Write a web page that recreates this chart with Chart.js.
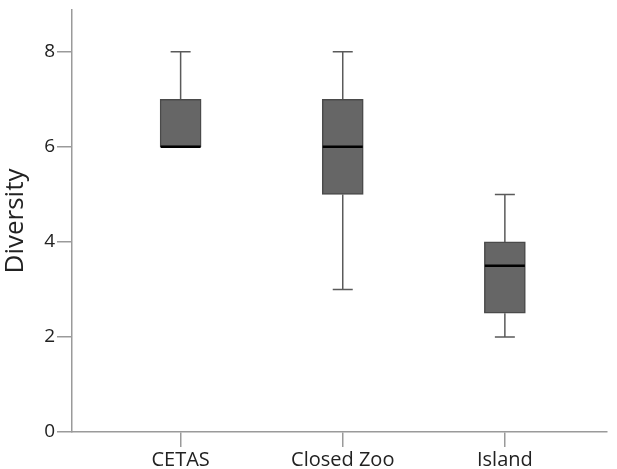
<!DOCTYPE html>
<html lang="en">
<head>
    <meta charset="UTF-8">
    <title>Diversity boxplot</title>
    <script src="https://cdn.jsdelivr.net/npm/chart.js"></script>
    <style>
        body {
            margin: 0;
            padding: 0;
            background-color: #ffffff;
        }

        canvas {
            display: block;
        }
    </style>
</head>
<body>

<canvas id="boxChart" width="617" height="469"></canvas>

<script>
    // Dados do boxplot
    const categorias = ['CETAS', 'Closed Zoo', 'Island'];
    const posicoes = [1, 2, 3];
    const minimos = [6, 3, 2];
    const quartil1 = [6, 5, 2.5];
    const medianas = [6, 6, 3.5];
    const quartil3 = [7, 7, 4];
    const maximos = [8, 8, 5];
    const yTicks = [0, 2, 4, 6, 8];

    const corEixo = '#9a9a9a';
    const corTexto = '#222222';
    const fonte = 'Open Sans';

    // Plugin para desenhar os bigodes e a mediana usando as escalas
    const boxplotPlugin = {
        id: 'boxplotExtras',
        beforeDatasetsDraw(chart) {
            const ctx = chart.ctx;
            const x = chart.scales.x;
            const y = chart.scales.y;
            const capHalf = 10;
            ctx.save();
            ctx.strokeStyle = '#5a5a5a';
            ctx.lineWidth = 1.5;
            posicoes.forEach((p, i) => {
                const px = x.getPixelForValue(p);
                // bigode superior
                ctx.beginPath();
                ctx.moveTo(px, y.getPixelForValue(quartil3[i]));
                ctx.lineTo(px, y.getPixelForValue(maximos[i]));
                ctx.moveTo(px - capHalf, y.getPixelForValue(maximos[i]));
                ctx.lineTo(px + capHalf, y.getPixelForValue(maximos[i]));
                // bigode inferior
                ctx.moveTo(px, y.getPixelForValue(quartil1[i]));
                ctx.lineTo(px, y.getPixelForValue(minimos[i]));
                ctx.moveTo(px - capHalf, y.getPixelForValue(minimos[i]));
                ctx.lineTo(px + capHalf, y.getPixelForValue(minimos[i]));
                ctx.stroke();
            });
            ctx.restore();
        },
        afterDatasetsDraw(chart) {
            const ctx = chart.ctx;
            const x = chart.scales.x;
            const y = chart.scales.y;
            const half = 20;
            ctx.save();
            ctx.strokeStyle = '#000000';
            ctx.lineWidth = 2.5;
            posicoes.forEach((p, i) => {
                const px = x.getPixelForValue(p);
                const py = y.getPixelForValue(medianas[i]);
                ctx.beginPath();
                ctx.moveTo(px - half, py);
                ctx.lineTo(px + half, py);
                ctx.stroke();
            });
            ctx.restore();
        }
    };

    const ctxBox = document.getElementById('boxChart').getContext('2d');
    new Chart(ctxBox, {
        type: 'bar',
        data: {
            datasets: [{
                label: 'Diversity',
                data: posicoes.map((p, i) => ({ x: p, y: [quartil1[i], quartil3[i]] })),
                backgroundColor: '#666666',
                borderColor: '#4a4a4a',
                borderWidth: 1.5,
                borderSkipped: false,
                barThickness: 41
            }]
        },
        options: {
            responsive: false,
            animation: false,
            devicePixelRatio: 1,
            layout: {
                padding: { top: 10, right: 10, left: 0, bottom: 0 }
            },
            plugins: {
                legend: { display: false },
                tooltip: { enabled: false }
            },
            scales: {
                x: {
                    type: 'linear',
                    offset: false,
                    min: 0.33,
                    max: 3.63,
                    afterBuildTicks(scale) {
                        scale.ticks = posicoes.map(v => ({ value: v }));
                    },
                    afterFit(scale) {
                        scale.height = 37;
                    },
                    ticks: {
                        callback: (v) => categorias[posicoes.indexOf(v)] || '',
                        color: corTexto,
                        font: { family: fonte, size: 20 },
                        padding: 1,
                        maxRotation: 0,
                        autoSkip: false
                    },
                    grid: {
                        offset: false,
                        drawOnChartArea: false,
                        tickLength: 15,
                        color: corEixo,
                        lineWidth: 1.5
                    },
                    border: { color: corEixo, width: 1.5 }
                },
                y: {
                    min: 0,
                    max: 8.88,
                    afterBuildTicks(scale) {
                        scale.ticks = yTicks.map(v => ({ value: v }));
                    },
                    afterFit(scale) {
                        scale.width = 72;
                        scale.paddingTop = 0;
                    },
                    ticks: {
                        color: corTexto,
                        font: { family: fonte, size: 19 },
                        padding: 2,
                        autoSkip: false
                    },
                    grid: {
                        drawOnChartArea: false,
                        tickLength: 15,
                        color: corEixo,
                        lineWidth: 1.5
                    },
                    border: { color: corEixo, width: 1.5 },
                    title: {
                        display: true,
                        text: 'Diversity',
                        color: corTexto,
                        font: { family: fonte, size: 26 },
                        padding: { top: 0, bottom: 0 }
                    }
                }
            }
        },
        plugins: [boxplotPlugin]
    });
</script>
</body>
</html>
